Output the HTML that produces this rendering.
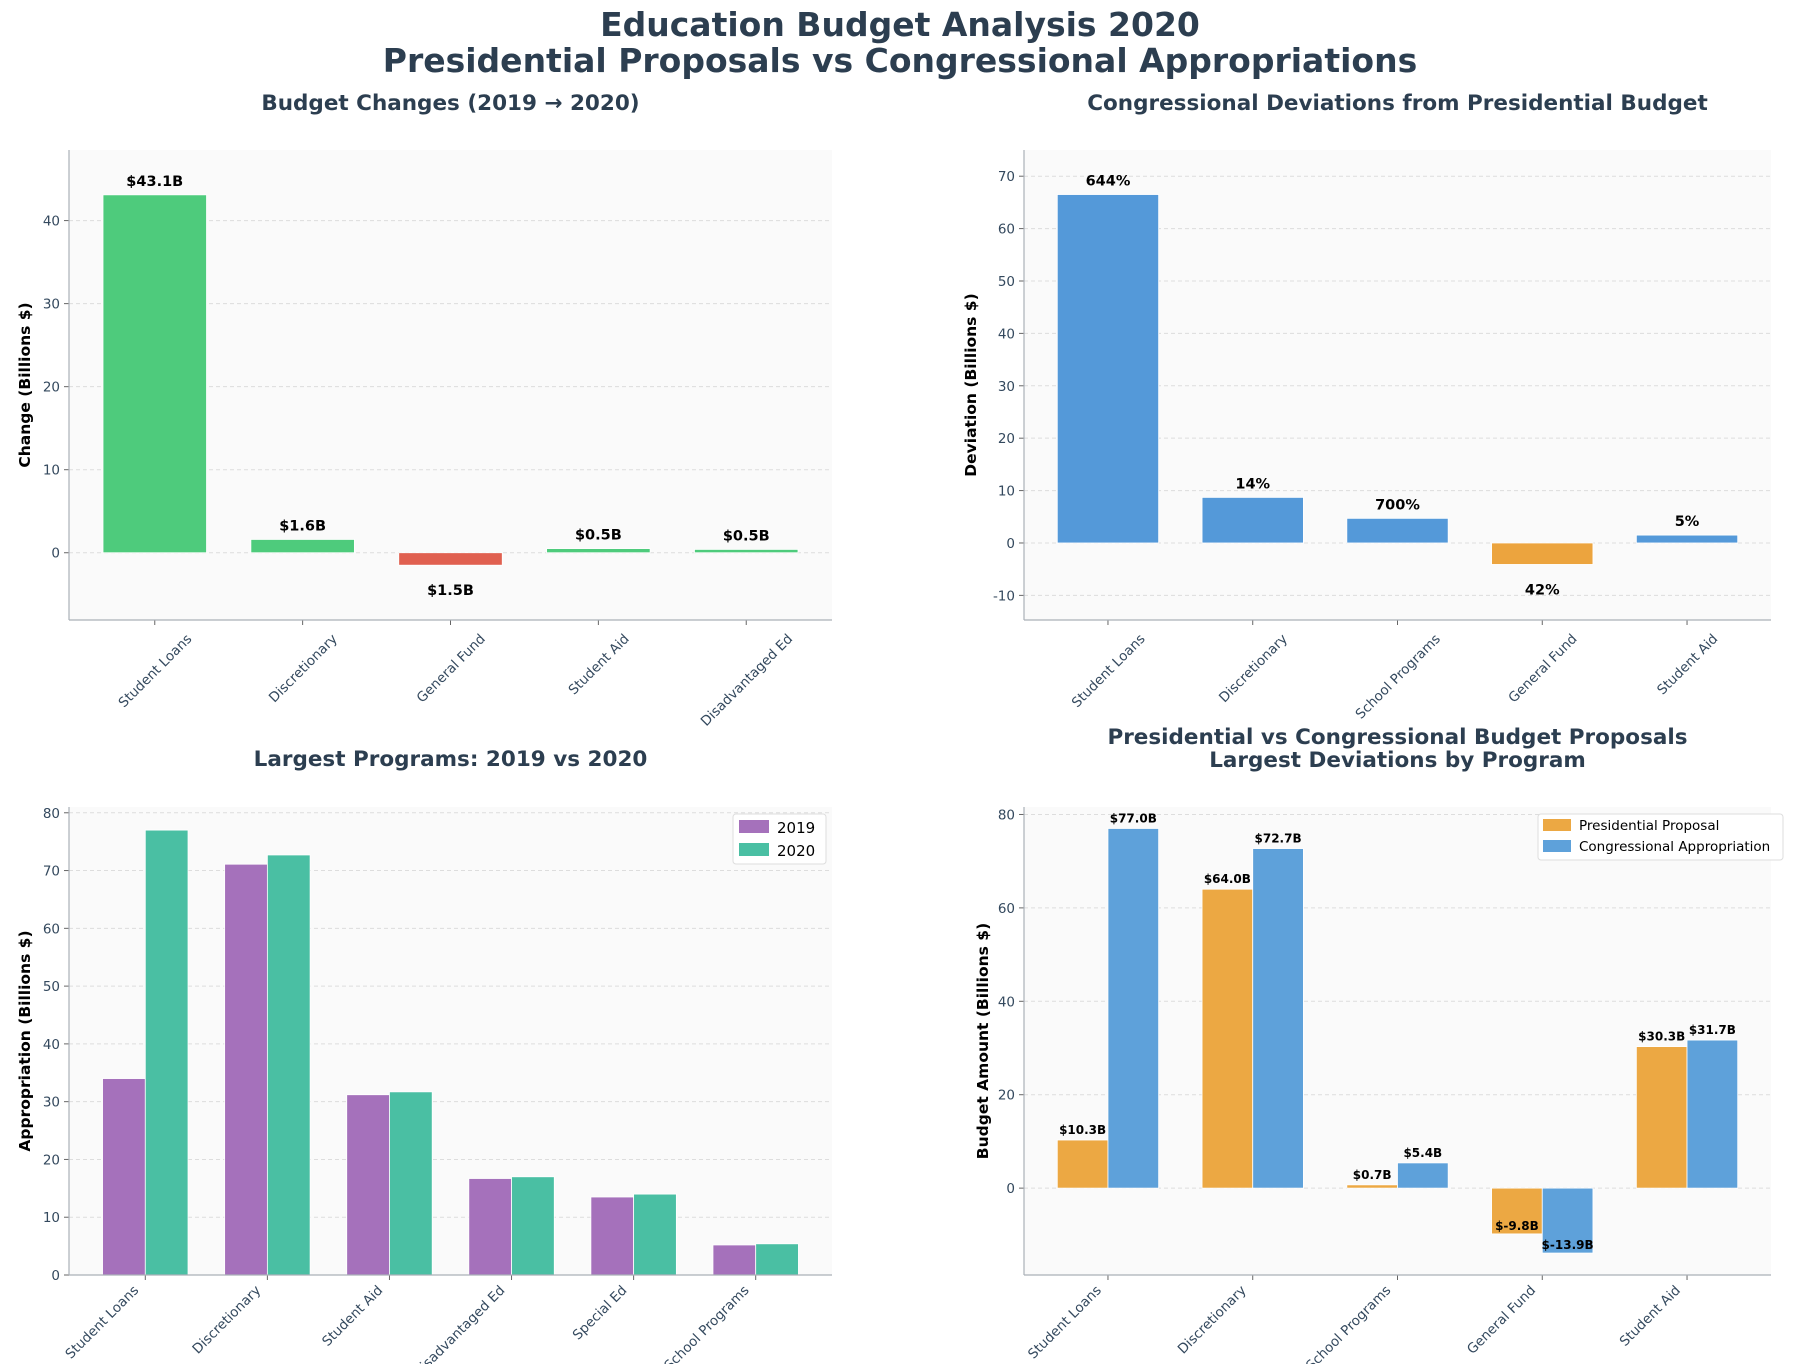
<!DOCTYPE html>
<html><head><meta charset="utf-8">
<style>
html,body{margin:0;padding:0;background:#fff;}
svg{display:block;font-family:"DejaVu Sans","Liberation Sans",sans-serif;}
</style></head>
<body>
<svg id="fig" width="1804" height="1364" viewBox="0 0 1804 1364" xmlns="http://www.w3.org/2000/svg">
<text x="900" y="36" text-anchor="middle" font-size="33" font-weight="bold" fill="#2c3e50">Education Budget Analysis 2020</text>
<text x="900" y="72" text-anchor="middle" font-size="33" font-weight="bold" fill="#2c3e50">Presidential Proposals vs Congressional Appropriations</text>
</svg>
<script>
// ---- Chart data ----
const changeCats = ["Student Loans","Discretionary","General Fund","Student Aid","Disadvantaged Ed"];
const changeVals = [43.1, 1.6, -1.5, 0.5, 0.4];
const changeLabels = ["$43.1B","$1.6B","$1.5B","$0.5B","$0.5B"];
const changeTicks = [0,10,20,30,40];

const devCats = ["Student Loans","Discretionary","School Programs","General Fund","Student Aid"];
const devVals = [66.5, 8.7, 4.7, -4.1, 1.5];
const devLabels = ["644%","14%","700%","42%","5%"];
const devTicks = [-10,0,10,20,30,40,50,60,70];

const progCats = ["Student Loans","Discretionary","Student Aid","Disadvantaged Ed","Special Ed","School Programs"];
const prog2019 = [34.0, 71.1, 31.2, 16.7, 13.5, 5.2];
const prog2020 = [77.0, 72.7, 31.7, 17.0, 14.0, 5.4];
const progTicks = [0,10,20,30,40,50,60,70,80];

const propCats = ["Student Loans","Discretionary","School Programs","General Fund","Student Aid"];
const presVals = [10.3, 64.0, 0.7, -9.8, 30.3];
const congVals = [77.0, 72.7, 5.4, -13.9, 31.7];
const propTicks = [0,20,40,60,80];

const NS="http://www.w3.org/2000/svg";
const svg=document.getElementById('fig');
function mk(tag,attrs,parent){const e=document.createElementNS(NS,tag);for(const k in attrs)e.setAttribute(k,attrs[k]);(parent||svg).appendChild(e);return e;}

function axes(p){
  const g=mk('g',{});
  
  
  const bg=mk('rect',{x:p.L,y:p.T,width:p.R-p.L,height:p.B-p.T,fill:'#fafafa'},g);
  
  
  const y=v=>p.B-(v-p.ymin)/(p.ymax-p.ymin)*(p.B-p.T);
  const x=i=>p.L+(i-p.xmin)/(p.xmax-p.xmin)*(p.R-p.L);
  p.ticks.forEach(t=>{
    const gl=mk('line',{x1:p.L,x2:p.R,y1:y(t),y2:y(t),stroke:'#dddddd','stroke-dasharray':'4,3','stroke-width':1},g);
    
    
    mk('line',{x1:p.L-5,x2:p.L,y1:y(t),y2:y(t),stroke:'#666'},g);
    const tl=mk('text',{x:p.L-9,y:y(t)+5,'text-anchor':'end','font-size':13.5,fill:'#34495e'},g);
    tl.textContent=t;
    
    
  });
  p.cats.forEach((c,i)=>{
    const cx=x(i);
    mk('line',{x1:cx,x2:cx,y1:p.B,y2:p.B+5,stroke:'#666'},g);
    const xl=mk('text',{x:cx,y:p.B,'text-anchor':p.rightAlign?'end':'middle','font-size':13.5,fill:'#34495e'},g);
    xl.textContent=c;
    
    
    if(p.rightAlign){
      const ax=cx-6, ay=p.B+16;
      xl.setAttribute('x',ax);xl.setAttribute('y',ay);
      xl.setAttribute('transform',`rotate(-45 ${ax} ${ay})`);
    } else {
      const L=xl.getComputedTextLength();
      const cy=p.B+10+L*0.354+6;
      xl.setAttribute('x',cx);
      xl.setAttribute('y',cy+5);
      xl.setAttribute('transform',`rotate(-45 ${cx} ${cy})`);
    }
  });
  const tt=mk('text',{x:(p.L+p.R)/2,y:p.titleY,'text-anchor':'middle','font-size':21.5,'font-weight':'bold',fill:'#2c3e50'},g);
  tt.textContent=p.title;
  
  
  if(p.title2){const t2=mk('text',{x:(p.L+p.R)/2,y:p.titleY+23,'text-anchor':'middle','font-size':21.5,'font-weight':'bold',fill:'#2c3e50'},g);t2.textContent=p.title2;
    
    }
  const yc=(p.T+p.B)/2;
  const yl=mk('text',{x:p.ylx,y:yc,'text-anchor':'middle','font-size':15.5,'font-weight':'bold',fill:'#000',transform:`rotate(-90 ${p.ylx} ${yc})`},g);
  yl.textContent=p.ylabel;
  
  
  return {g,x,y};
}
function spines(p,g){
  mk('line',{x1:p.L,x2:p.L,y1:p.T,y2:p.B,stroke:'#aab0b8','stroke-width':1.2},g);
  mk('line',{x1:p.L,x2:p.R,y1:p.B,y2:p.B,stroke:'#aab0b8','stroke-width':1.2},g);
}
function bar(g,x0,x1,y0,y1,fill,name){
  const r=mk('rect',{x:x0,y:Math.min(y0,y1),width:x1-x0,height:Math.max(1,Math.abs(y1-y0)),fill:fill,stroke:'#fff','stroke-width':0.8},g);
  
  
  return r;
}
function label(g,x,y,txt,size,name){
  const t=mk('text',{x:x,y:y,'text-anchor':'middle','font-size':size,'font-weight':'bold',fill:'#000'},g);
  t.textContent=txt;
  
  
}

// Panel 1
(function(){
  const p={name:'budget-changes-chart',L:69,R:832,T:150,B:620,ymin:-8.1,ymax:48.5,xmin:-0.58,xmax:4.58,ticks:changeTicks,cats:changeCats,title:'Budget Changes (2019 → 2020)',titleY:110,ylabel:'Change (Billions $)',ylx:30};
  const a=axes(p);const w=(a.x(1)-a.x(0))*0.7;
  changeVals.forEach((v,i)=>{
    const cx=a.x(i);
    bar(a.g,cx-w/2,cx+w/2,a.y(0),a.y(v),v>=0?'#4ecb7c':'#e06050','change-bar');
    if(v>=0) label(a.g,cx,a.y(v)-9,changeLabels[i],14.5,'bar-value-label');
    else label(a.g,cx,a.y(v)+30,changeLabels[i],14.5,'bar-value-label');
  });
  spines(p,a.g);
})();
// Panel 2
(function(){
  const p={name:'deviation-chart',L:1024,R:1771,T:150,B:620,ymin:-14.7,ymax:75,xmin:-0.58,xmax:4.58,ticks:devTicks,cats:devCats,title:'Congressional Deviations from Presidential Budget',titleY:110,ylabel:'Deviation (Billions $)',ylx:976};
  const a=axes(p);const w=(a.x(1)-a.x(0))*0.7;
  devVals.forEach((v,i)=>{
    const cx=a.x(i);
    bar(a.g,cx-w/2,cx+w/2,a.y(0),a.y(v),v>=0?'#5499d9':'#eca43e','deviation-bar');
    if(v>=0) label(a.g,cx,a.y(v)-9,devLabels[i],14.5,'bar-value-label');
    else label(a.g,cx,a.y(v)+30,devLabels[i],14.5,'bar-value-label');
  });
  spines(p,a.g);
})();
// Panel 3
(function(){
  const p={name:'largest-programs-chart',L:69,R:832,T:807,B:1275,ymin:0,ymax:81,xmin:-0.625,xmax:5.625,ticks:progTicks,cats:progCats,title:'Largest Programs: 2019 vs 2020',titleY:766,ylabel:'Appropriation (Billions $)',ylx:30,rightAlign:true};
  const a=axes(p);const w=(a.x(1)-a.x(0))*0.35;
  progCats.forEach((c,i)=>{
    const cx=a.x(i);
    bar(a.g,cx-w,cx,a.y(0),a.y(prog2019[i]),'#a571bb','bar-2019');
    bar(a.g,cx,cx+w,a.y(0),a.y(prog2020[i]),'#4abfa3','bar-2020');
  });
  spines(p,a.g);
  const lg=mk('g',{},a.g);
  
  
  mk('rect',{x:733,y:814,width:93,height:50,fill:'#fff',stroke:'#ddd',rx:3},lg);
  [['2019','#a571bb',828],['2020','#4abfa3',851]].forEach(e=>{
    const it=mk('g',{},lg);
    
    
    mk('rect',{x:739,y:e[2]-8,width:30,height:13,fill:e[1]},it);
    const t=mk('text',{x:777,y:e[2]+5,'font-size':15,fill:'#000'},it);t.textContent=e[0];
  });
})();
// Panel 4
(function(){
  const p={name:'proposal-comparison-chart',L:1024,R:1771,T:807,B:1275,ymin:-18.6,ymax:81.6,xmin:-0.58,xmax:4.58,ticks:propTicks,cats:propCats,title:'Presidential vs Congressional Budget Proposals',title2:'Largest Deviations by Program',titleY:744,ylabel:'Budget Amount (Billions $)',ylx:988,rightAlign:true};
  const a=axes(p);const w=(a.x(1)-a.x(0))*0.35;
  propCats.forEach((c,i)=>{
    const cx=a.x(i);
    bar(a.g,cx-w,cx,a.y(0),a.y(presVals[i]),'#eca843','presidential-bar');
    bar(a.g,cx,cx+w,a.y(0),a.y(congVals[i]),'#5ea1da','congressional-bar');
    const pv=presVals[i],cv=congVals[i];
    label(a.g,cx-w/2,pv>=0?a.y(pv)-6:a.y(pv)-4,'$'+pv.toFixed(1)+'B',12,'bar-value-label');
    label(a.g,cx+w/2,cv>=0?a.y(cv)-6:a.y(cv)-4,'$'+cv.toFixed(1)+'B',12,'bar-value-label');
  });
  spines(p,a.g);
  const lg=mk('g',{},a.g);
  
  
  mk('rect',{x:1538,y:814,width:245,height:46,fill:'#fff',stroke:'#ddd',rx:3},lg);
  [['Presidential Proposal','#eca843',826],['Congressional Appropriation','#5ea1da',847]].forEach(e=>{
    const it=mk('g',{},lg);
    
    
    mk('rect',{x:1543,y:e[2]-7,width:28,height:12,fill:e[1]},it);
    const t=mk('text',{x:1579,y:e[2]+4,'font-size':13.5,fill:'#000'},it);t.textContent=e[0];
  });
})();
</script>
</body></html>
